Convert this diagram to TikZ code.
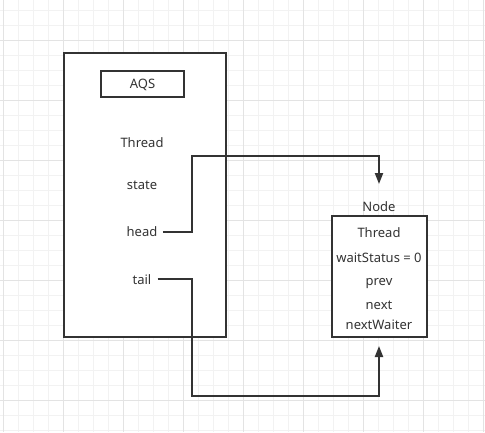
\documentclass[tikz,border=0pt]{standalone}
\usepackage{fontspec}
\setmainfont{Noto Sans}
\usetikzlibrary{arrows.meta,calc}
\definecolor{ink}{HTML}{333333}
\definecolor{gridminor}{HTML}{F2F2F2}
\definecolor{gridmajor}{HTML}{E3E3E3}
\tikzset{
  box/.style={draw=ink,line width=2pt,fill=white},
  lbl/.style={text=ink,font=\fontsize{13}{15}\selectfont,inner sep=0pt,anchor=base},
  conn/.style={draw=ink,line width=2pt},
  arr/.style={conn,-{Triangle[length=11pt,width=8pt]}},
}
\begin{document}
\begin{tikzpicture}[x=1pt,y=-1pt]
\useasboundingbox (0,0) rectangle (485,432);
\fill[white] (0,0) rectangle (485,432);
% grid
\foreach \x in {3.3,18.3,...,485} \draw[gridminor,line width=0.8pt] (\x,0) -- (\x,432);
\foreach \y in {10,25,...,432} \draw[gridminor,line width=0.8pt] (0,\y) -- (485,\y);
\foreach \x in {3.3,63.3,...,485} \draw[gridmajor,line width=0.8pt] (\x,0) -- (\x,432);
\foreach \y in {40,100,...,432} \draw[gridmajor,line width=0.8pt] (0,\y) -- (485,\y);
% AQS box
\draw[box] (64,53) rectangle (226,337);
\node[box,minimum width=83pt,minimum height=26pt,inner sep=0pt] (aqsbox) at (142.5,84) {};
\node[lbl] (aqs) at (142.5,88.5) {AQS};
\node[lbl] (athread) at (142,147.3) {Thread};
\node[lbl] (state) at (142,189) {state};
\node[lbl] (head) at (142,236.7) {head};
\node[lbl] (tail) at (142,284.3) {tail};
% Node box
\node[lbl] (nodelbl) at (379,211) {Node};
\draw[box] (331.5,216) rectangle (426.5,337);
\node[lbl] (nthread) at (379,237.3) {Thread};
\node[lbl] (ws) at (379,262.3) {waitStatus = 0};
\node[lbl] (prev) at (379,285.7) {prev};
\node[lbl] (next) at (379,309) {next};
\node[lbl] (nw) at (379,329.3) {nextWaiter};
% connectors
\coordinate (hturn) at (192,156);
\coordinate (htip) at (379,184);
\coordinate (tturn) at (192,396);
\coordinate (ttip) at (379,346);
\draw[arr] ([xshift=5.4pt]head.east) -| (hturn) -| (htip);
\draw[arr] ([xshift=6pt]tail.east) -| (tturn) -| (ttip);
\end{tikzpicture}
\end{document}
